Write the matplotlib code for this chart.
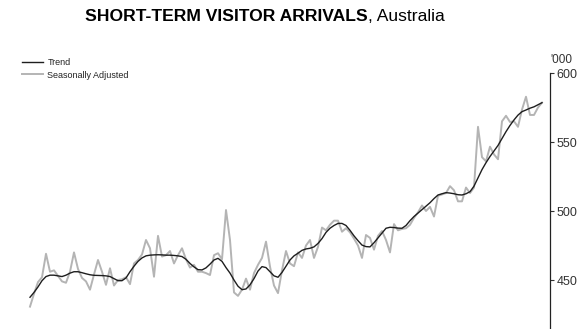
import numpy as np
import matplotlib
matplotlib.use("Agg")
import matplotlib.pyplot as plt
from matplotlib.lines import Line2D

# monthly values, '000
trend = [
    437.5, 441, 445, 449.5, 452.5, 453.5, 453.5, 453, 452.5, 453.5,
    455, 456, 456, 455.3, 454.5, 453.8, 453.4, 453.3, 453.2, 453,
    452.5, 451, 449.5, 449.5, 451.5, 456, 460, 463.5, 466, 467.5,
    468, 468.2, 468.3, 468.2, 468, 468, 467.8, 467.5, 467, 465,
    462, 459.5, 457.5, 457.3, 458.8, 461.5, 464.5, 465.7, 463.5, 459,
    455, 450, 445.5, 443, 443.5, 446.5, 451, 456.5, 459.7, 459,
    456, 453, 452, 455.5, 460, 464.5, 467.5, 469.4, 471.5, 472.5,
    473, 474, 476.5, 480, 484.5, 487.5, 489.5, 491, 491, 489.5,
    486, 482, 478.5, 475.3, 474.2, 474, 477, 480.5, 484, 487.5,
    488.2, 488, 487.6, 487.5, 489.5, 493, 496, 498.5, 501, 503.5,
    506, 509, 511.6, 512.5, 513.3, 513, 512.5, 511.8, 511.6, 512.5,
    514, 518, 524, 530, 535, 539.5, 543.5, 547.5, 552.5, 557.5,
    562, 566, 569.5, 572, 573.2, 574.5, 575.5, 577, 578.5,
]
seas_adj = [
    430.7, 440, 448.5, 452, 469, 456, 457, 453, 449, 448,
    456, 470, 458, 451.5, 449, 443, 454, 464.5, 456, 446.5,
    458.5, 446, 450, 450.5, 452, 447, 462, 464.5, 468.5, 479,
    473, 452.4, 482, 467, 468, 471, 462, 468, 473, 465,
    459, 461, 456, 456, 455, 453.6, 468, 469.4, 465, 500.7,
    479, 441, 438.5, 443, 451, 443, 455, 461, 466, 477.8,
    459.7, 446, 440.5, 457, 471, 462, 460, 470, 466, 475,
    479, 466, 474, 488, 486, 490, 493, 493, 485, 487.5,
    484.5, 480, 475, 466, 482.6, 480.5, 472, 482, 485.5, 479,
    470, 490.5, 486, 487, 487.5, 490, 495, 499, 504, 500,
    503, 496, 511, 512, 513, 518, 515, 507, 507, 517,
    513, 517, 561, 539, 536, 546.6, 541, 537.5, 565, 569,
    564.5, 565, 561, 573.5, 582.8, 569.6, 569.6, 575, 578.5,
]
y_ticks = [450, 500, 550, 600]

months = np.arange(len(trend))

fig = plt.figure(figsize=(5.84, 3.29), dpi=100)
plt.rcParams['font.family'] = ['Liberation Sans', 'DejaVu Sans']

# axes runs past the bottom edge, as in the cropped original
ax = fig.add_axes([20 / 584, -0.0608, 529.5 / 584, 0.7781 + 0.0608])
ax.plot(months, seas_adj, color='#b4b4b4', lw=1.4, zorder=2)
ax.plot(months, trend, color='#1e1e1e', lw=1.0, zorder=3)

ax.set_xlim(-2.5, 129.875)
ax.set_ylim(400, 600)
ax.set_yticks(y_ticks)
ax.yaxis.tick_right()
ax.tick_params(axis='y', direction='out', length=3, width=0.8, pad=2,
               labelsize=9, colors='#333333')
ax.set_xticks([])
for side in ['left', 'top', 'bottom']:
    ax.spines[side].set_visible(False)
ax.spines['right'].set_color('#222222')
ax.spines['right'].set_linewidth(0.9)

fig.text(550 / 584, 1 - 60 / 329, "'000", fontsize=8.5, color='#333333',
         ha='left', va='center')

# title: bold part + normal part
fig.text(368 / 584, 1 - 20.7 / 329, "SHORT-TERM VISITOR ARRIVALS",
         fontsize=12.6, fontweight='bold', ha='right', va='baseline')
fig.text(368 / 584, 1 - 20.7 / 329, ", Australia",
         fontsize=12.6, ha='left', va='baseline')

handles = [Line2D([], [], color='#1e1e1e', lw=1.0),
           Line2D([], [], color='#b4b4b4', lw=1.4)]
fig.legend(handles, ['Trend', 'Seasonally Adjusted'], loc='upper left',
           bbox_to_anchor=(22 / 584, 1 - 58 / 329), frameon=False,
           fontsize=6.5, handlelength=2.3, handletextpad=0.5,
           labelspacing=0.4, borderaxespad=0, borderpad=0,
           labelcolor='#222222')

fig.savefig('out.png', dpi=100)
